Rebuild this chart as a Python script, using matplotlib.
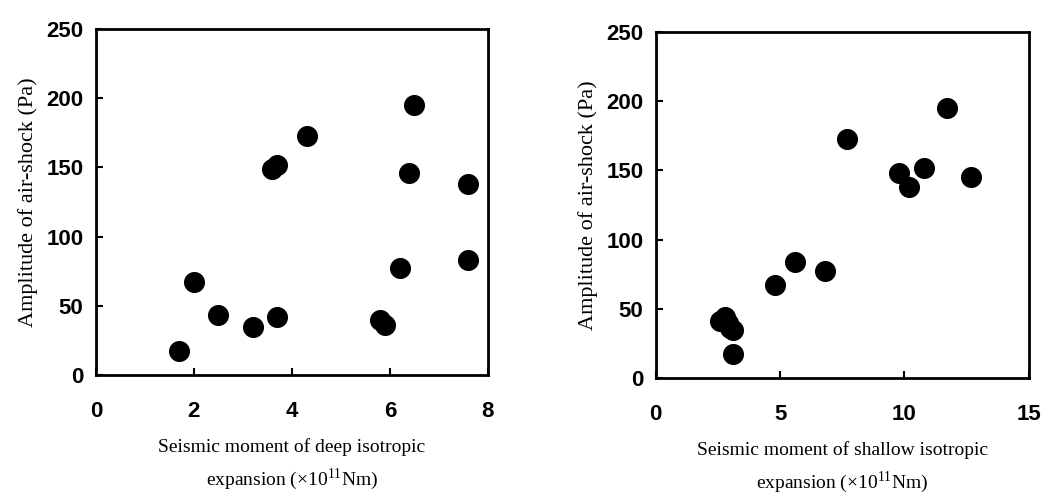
import numpy as np
import matplotlib
matplotlib.use("Agg")
import matplotlib.pyplot as plt

plt.rcParams['mathtext.fontset'] = 'custom'
plt.rcParams['mathtext.rm'] = 'Liberation Serif'

# deep isotropic expansion (x 10^11 Nm) vs air-shock amplitude (Pa)
deep_moment = [1.7, 2.0, 2.5, 3.2, 3.7, 3.6, 3.7, 4.3, 5.8, 5.9, 6.2, 6.4, 6.5, 7.6, 7.6]
deep_amp = [17, 67, 43, 35, 42, 149, 152, 173, 40, 36, 77, 146, 195, 138, 83]

# shallow isotropic expansion
shallow_moment = [2.6, 2.8, 2.9, 3.0, 3.1, 3.1, 4.8, 5.6, 6.8, 7.7, 9.8, 10.2, 10.8, 11.7, 12.7]
shallow_amp = [41, 44, 40, 36, 35, 17, 67, 84, 77, 173, 148, 138, 152, 195, 145]

deep_ticks = [0, 2, 4, 6, 8]
shallow_ticks = [0, 5, 10, 15]
amp_ticks = [0, 50, 100, 150, 200, 250]

fig = plt.figure(figsize=(10.56, 4.97), dpi=100)
ax1 = fig.add_axes([0.0909, 0.2455, 0.371, 0.696])
ax2 = fig.add_axes([0.621, 0.2394, 0.353, 0.696])

def style(ax, xticks, xlabel):
    ax.set_xlim(xticks[0], xticks[-1])
    ax.set_ylim(0, 250)
    ax.set_xticks(xticks)
    ax.set_yticks(amp_ticks)
    ax.tick_params(direction='in', length=5, width=1.5, top=False, right=False,
                   labelsize=16)
    ax.tick_params(axis='x', pad=19)
    ax.tick_params(axis='y', pad=9)
    for lab in ax.get_xticklabels() + ax.get_yticklabels():
        lab.set_fontweight('bold')
        lab.set_family('Liberation Sans')
    for sp in ax.spines.values():
        sp.set_linewidth(2)
    ax.set_ylabel('Amplitude of air-shock (Pa)', family='Liberation Serif',
                  fontsize=16, labelpad=6)
    ax.set_xlabel(xlabel, family='Liberation Serif', fontsize=14,
                  labelpad=11, linespacing=1.55)

ax1.scatter(deep_moment, deep_amp, s=200, color='black', zorder=3, clip_on=False)
style(ax1, deep_ticks, 'Seismic moment of deep isotropic\nexpansion (×10$^{11}$Nm)')

ax2.scatter(shallow_moment, shallow_amp, s=200, color='black', zorder=3, clip_on=False)
style(ax2, shallow_ticks, 'Seismic moment of shallow isotropic\nexpansion (×10$^{11}$Nm)')

fig.savefig('out.png', dpi=100)
